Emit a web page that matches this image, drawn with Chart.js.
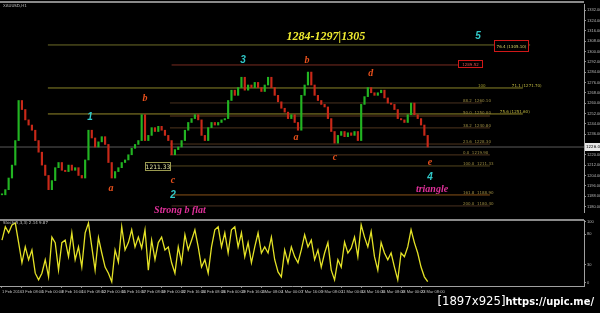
<!DOCTYPE html>
<html>
<head>
<meta charset="utf-8">
<script src="https://cdn.jsdelivr.net/npm/chart.js@4.4.1/dist/chart.umd.min.js"></script>
<style>
html, body { margin: 0; padding: 0; background: #000; }
#wrap { position: relative; width: 600px; height: 313px; background: #000; overflow: hidden; }
canvas { position: absolute; left: 0; }
#c1 { top: 0; }
#c2 { top: 216px; }
.rule { position: absolute; background: #8a8a8a; }
#mark { position: absolute; right: 6px; top: 293px; color: #fff; white-space: nowrap; line-height: 14px; }
#mark .a { font: 13px "DejaVu Sans Condensed", "DejaVu Sans", sans-serif; }
#mark .b { font: bold 11px "DejaVu Sans Condensed", "DejaVu Sans", sans-serif; }
</style>
</head>
<body>
<div id="wrap">
  <div class="rule" style="left:0;top:1px;width:584px;height:2px"></div>
  <canvas id="c1" width="600" height="216"></canvas>
  <div class="rule" style="left:0;top:219px;width:584px;height:2px"></div>
  <canvas id="c2" width="600" height="80"></canvas>
  <div id="mark"><span class="a">[1897x925]</span><span class="b">https://upic.me/</span></div>
</div>
<script>
// closes, one per bar
var closes = [1189, 1193, 1202, 1212, 1231, 1262, 1255, 1247, 1243, 1239,
  1231, 1222, 1212, 1204, 1193, 1200, 1210, 1214, 1208, 1207,
  1212, 1208, 1210, 1204, 1202, 1216, 1239, 1233, 1226, 1230,
  1234, 1228, 1214, 1202, 1207, 1210, 1214, 1216, 1220, 1225,
  1228, 1231, 1251, 1231, 1235, 1241, 1238, 1242, 1239, 1235,
  1231, 1220, 1224, 1226, 1231, 1239, 1245, 1248, 1251, 1247,
  1235, 1231, 1241, 1245, 1243, 1245, 1247, 1248, 1262, 1270,
  1266, 1272, 1280, 1270, 1274, 1272, 1276, 1272, 1269, 1274,
  1280, 1272, 1266, 1261, 1256, 1253, 1248, 1251, 1245, 1239,
  1266, 1274, 1284, 1274, 1266, 1262, 1259, 1257, 1248, 1238,
  1229, 1235, 1238, 1234, 1237, 1235, 1238, 1231, 1259, 1265,
  1272, 1268, 1266, 1268, 1270, 1264, 1260, 1259, 1255, 1248,
  1247, 1245, 1251, 1260, 1251, 1248, 1243, 1235, 1226];

var stoch = [70, 92, 82, 95, 98, 66, 33, 59, 38, 54,
  16, 5, 16, 38, 10, 75, 66, 21, 66, 70,
  43, 82, 38, 59, 26, 82, 98, 59, 21, 74,
  49, 26, 16, 2, 54, 34, 92, 54, 66, 87,
  59, 75, 57, 87, 21, 70, 38, 66, 75, 54,
  59, 33, 16, 59, 33, 79, 54, 70, 87, 59,
  26, 38, 16, 59, 87, 92, 59, 82, 49, 87,
  92, 59, 82, 43, 66, 33, 59, 82, 49, 59,
  49, 75, 38, 18, 10, 54, 33, 59, 43, 33,
  54, 79, 59, 70, 38, 54, 26, 49, 66, 21,
  5, 38, 26, 67, 49, 57, 75, 43, 95, 75,
  59, 84, 43, 21, 66, 49, 38, 49, 26, 5,
  49, 43, 59, 87, 66, 49, 26, 10, 2];

var levels = [1305.0, 1289.5, 1271.7, 1260.1, 1251.6, 1250.0, 1240.8, 1228.3, 1226.0, 1219.9, 1211.33, 1188.9, 1180.4];
var lastPrice = 1226.0;

var priceTicks = [1180, 1188, 1196, 1204, 1212, 1220, 1228, 1236, 1244, 1252,
  1260, 1268, 1276, 1284, 1292, 1300, 1308, 1316, 1324, 1332];
var stochTicks = [0, 30, 80, 100];
var timeLabels = ["1 Feb 2016", "3 Feb 08:00", "5 Feb 00:00", "8 Feb 16:00", "10 Feb 08:00",
  "12 Feb 00:00", "15 Feb 16:00", "17 Feb 08:00", "19 Feb 00:00", "22 Feb 16:00",
  "24 Feb 08:00", "26 Feb 00:00", "29 Feb 16:00", "2 Mar 08:00", "4 Mar 00:00",
  "7 Mar 16:00", "9 Mar 08:00", "11 Mar 00:00", "14 Mar 16:00", "16 Mar 08:00",
  "18 Mar 00:00", "23 Mar 08:00"];

// how each level line is drawn (bar span + colour)
var levelLook = [
  { from: 13.8, to: 158.8, color: '#6e6c28' },
  { from: 51, to: 144.3, color: '#7a2c20' },
  { from: 13.8, to: 156.6, color: '#8a8428' },
  { from: 50.5, to: 144.3, color: '#4a3220' },
  { from: 13.8, to: 156.6, color: '#948a2a' },
  { from: 50.5, to: 146.7, color: '#5e3a1e' },
  { from: 50.5, to: 146.7, color: '#50361e' },
  { from: 50.5, to: 146.7, color: '#50361e' },
  { from: -0.6, to: 175, color: '#5a5a5a' },
  { from: 50.5, to: 146.7, color: '#50361e' },
  { from: 50.5, to: 146.7, color: '#54461e' },
  { from: 51, to: 146.7, color: '#8a5218' },
  { from: 51, to: 146.7, color: '#4a3220' }
];

var cyan = '#30c8c8', orange = '#e8501c', pink = '#e0309a';
var waveFont = 'bold italic 10px "Liberation Serif"';
var numFont = 'bold italic 10px "Liberation Sans"';
var labels = [
  { t: '1284-1297|1305', i: 97.4, p: 1311.2, c: '#f0ec30', f: 'bold italic 12px "Liberation Serif"' },
  { t: '5', i: 143.1, p: 1312, c: cyan, f: numFont },
  { t: '3', i: 72.5, p: 1293.4, c: cyan, f: numFont },
  { t: 'b', i: 91.7, p: 1293.4, c: orange, f: waveFont },
  { t: 'd', i: 110.9, p: 1282.6, c: orange, f: waveFont },
  { t: 'b', i: 43, p: 1264, c: orange, f: waveFont },
  { t: '1', i: 26.5, p: 1249.3, c: cyan, f: numFont },
  { t: 'a', i: 88.4, p: 1233.8, c: orange, f: waveFont },
  { t: 'c', i: 100.1, p: 1218.3, c: orange, f: waveFont },
  { t: 'c', i: 51.4, p: 1200.5, c: orange, f: waveFont },
  { t: 'a', i: 32.8, p: 1194.3, c: orange, f: waveFont },
  { t: '2', i: 51.4, p: 1188.9, c: cyan, f: numFont },
  { t: 'e', i: 128.7, p: 1214.4, c: orange, f: waveFont },
  { t: '4', i: 128.7, p: 1202.8, c: cyan, f: numFont },
  { t: 'triangle', i: 129.3, p: 1192.8, c: pink, f: 'bold italic 10px "Liberation Serif"' },
  { t: 'Strong b flat', i: 53.5, p: 1177.3, c: pink, f: 'bold italic 10px "Liberation Serif"' }
];

var tiny = '4px "DejaVu Sans"';
var fibNotes = [
  { t: '100', i: 143.1, p: 1273.3, c: '#a09a2c' },
  { t: '71.1 (1271.70)', i: 153.3, p: 1273.3, c: '#c0b840' },
  { t: '88.2  1260.10', i: 138.6, p: 1261.6, c: '#9a8a40' },
  { t: '75.6 (1251.60)', i: 149.7, p: 1253.1, c: '#c0b840' },
  { t: '50.0  1250.00', i: 138.6, p: 1252.6, c: '#9a8a40' },
  { t: '38.2  1240.80', i: 138.6, p: 1242.0, c: '#9a8a40' },
  { t: '23.6  1228.30', i: 138.6, p: 1229.6, c: '#9a8a40' },
  { t: '0.0  1219.90', i: 138.6, p: 1221.2, c: '#9a8a40' },
  { t: '100.0  1211.33', i: 138.6, p: 1212.6, c: '#9a8a40' },
  { t: '161.8  1188.90', i: 138.6, p: 1190.2, c: '#9a8a40' },
  { t: '200.0  1180.40', i: 138.6, p: 1181.7, c: '#9a8a40' }
];

var boxes = [
  { t: '76.4 (1305.10)', i0: 147.9, i1: 158.2, p0: 1308.9, p1: 1300.4, edge: '#d01818', c: '#d8d060', f: tiny },
  { t: '1289.52', i0: 137.1, i1: 144.3, p0: 1293.4, p1: 1288.0, edge: '#d01818', c: '#e05050', f: tiny },
  { t: '1211.33', i0: 43, i1: 50.5, p0: 1214.4, p1: 1208.2, edge: '#9a9a50', c: '#e0e0a0', f: '6px "DejaVu Sans"' }
];

var topNotes = {
  id: 'topNotes',
  afterDatasetsDraw: function(chart) {
    var ctx = chart.ctx, xs = chart.scales.x, ys = chart.scales.y;
    ctx.save();
    ctx.textBaseline = 'middle';
    ctx.textAlign = 'left';
    ctx.font = tiny;
    fibNotes.forEach(function(n) {
      ctx.fillStyle = n.c;
      ctx.fillText(n.t, xs.getPixelForValue(n.i), ys.getPixelForValue(n.p));
    });
    boxes.forEach(function(b) {
      var x0 = Math.round(xs.getPixelForValue(b.i0)), x1 = Math.round(xs.getPixelForValue(b.i1));
      var y0 = Math.round(ys.getPixelForValue(b.p0)), y1 = Math.round(ys.getPixelForValue(b.p1));
      ctx.fillStyle = '#000';
      ctx.fillRect(x0, y0, x1 - x0, y1 - y0);
      ctx.strokeStyle = b.edge;
      ctx.lineWidth = 1;
      ctx.strokeRect(x0 + 0.5, y0 + 0.5, x1 - x0, y1 - y0);
      ctx.fillStyle = b.c;
      ctx.font = b.f;
      ctx.textAlign = 'center';
      ctx.fillText(b.t, (x0 + x1) / 2 + 0.5, (y0 + y1) / 2 + 1);
    });
    labels.forEach(function(l) {
      ctx.fillStyle = l.c;
      ctx.font = l.f;
      ctx.textAlign = 'center';
      ctx.fillText(l.t, xs.getPixelForValue(l.i), ys.getPixelForValue(l.p));
    });
    ctx.font = tiny;
    ctx.textAlign = 'left';
    ctx.fillStyle = '#c0c0c0';
    ctx.fillText('XAUUSD,H1', 3, 6);
    ctx.restore();
  },
  afterDraw: function(chart) {
    var ctx = chart.ctx, ys = chart.scales.y;
    var y = Math.round(ys.getPixelForValue(lastPrice));
    ctx.save();
    ctx.fillStyle = '#e8e8e8';
    ctx.fillRect(585, y - 4, 15, 8);
    ctx.fillStyle = '#000';
    ctx.font = tiny;
    ctx.textBaseline = 'middle';
    ctx.fillText(lastPrice.toFixed(2), 586, y);
    ctx.restore();
  }
};

var datasets = [];
datasets.push({
  type: 'bar',
  data: closes.map(function(c, i) { return { x: i, y: [i ? closes[i - 1] : c, c] }; }),
  backgroundColor: closes.map(function(c, i) { return (i && c < closes[i - 1]) ? '#c82818' : '#22b422'; }),
  barThickness: 1.5,
  minBarLength: 1,
  order: 1
});
levels.forEach(function(p, k) {
  var s = levelLook[k];
  datasets.push({
    type: 'line',
    data: [{ x: s.from, y: p }, { x: s.to, y: p }],
    borderColor: s.color,
    borderWidth: 1,
    pointRadius: 0,
    order: 2
  });
});

new Chart(document.getElementById('c1'), {
  type: 'bar',
  data: { datasets: datasets },
  options: {
    responsive: false,
    animation: false,
    devicePixelRatio: 1,
    layout: { padding: { top: 4, bottom: 4, left: 0, right: 0 } },
    plugins: { legend: { display: false }, tooltip: { enabled: false } },
    scales: {
      x: { type: 'linear', min: -0.6, max: 175, display: false, offset: false },
      y: {
        position: 'right', min: 1175.7, max: 1336.7,
        afterFit: function(s) { s.width = 16; },
        afterBuildTicks: function(s) { s.ticks = priceTicks.map(function(v) { return { value: v }; }); },
        ticks: { font: { size: 4 }, color: '#b8b8b8', padding: 1, callback: function(v) { return v.toFixed(2); } },
        grid: { drawOnChartArea: false, color: '#909090', tickLength: 2 },
        border: { color: '#a0a0a0' }
      }
    }
  },
  plugins: [topNotes]
});

var oscCaption = {
  id: 'oscCaption',
  afterDraw: function(chart) {
    var ctx = chart.ctx;
    ctx.save();
    ctx.font = tiny;
    ctx.fillStyle = '#c0c0c0';
    ctx.textBaseline = 'middle';
    ctx.fillText('Stoch(5,3,3) 2.14 9.87', 3, 7);
    ctx.restore();
  }
};

new Chart(document.getElementById('c2'), {
  type: 'line',
  data: {
    datasets: [{
      data: stoch.map(function(v, i) { return { x: i, y: v }; }),
      borderColor: '#e4e226',
      borderWidth: 1.3,
      pointRadius: 0
    }]
  },
  options: {
    responsive: false,
    animation: false,
    devicePixelRatio: 1,
    layout: { padding: { top: 4, bottom: 1, left: 0, right: 0 } },
    plugins: { legend: { display: false }, tooltip: { enabled: false } },
    scales: {
      x: {
        type: 'linear', min: -0.6, max: 175, offset: false,
        afterFit: function(s) { s.height = 9; },
        afterBuildTicks: function(s) { s.ticks = timeLabels.map(function(t, k) { return { value: k * 6 }; }); },
        ticks: {
          font: { size: 4 }, color: '#c0c0c0', padding: 1, align: 'start',
          maxRotation: 0, autoSkip: false,
          callback: function(v) { return timeLabels[Math.round(v / 6)]; }
        },
        grid: { drawOnChartArea: false, color: '#808080', tickLength: 2 },
        border: { color: '#a0a0a0' }
      },
      y: {
        position: 'right', min: -5, max: 103,
        afterFit: function(s) { s.width = 16; },
        afterBuildTicks: function(s) { s.ticks = stochTicks.map(function(v) { return { value: v }; }); },
        ticks: { font: { size: 4 }, color: '#b8b8b8', padding: 1 },
        grid: { drawOnChartArea: false, color: '#909090', tickLength: 2 },
        border: { color: '#a0a0a0' }
      }
    }
  },
  plugins: [oscCaption]
});
</script>
</body>
</html>
